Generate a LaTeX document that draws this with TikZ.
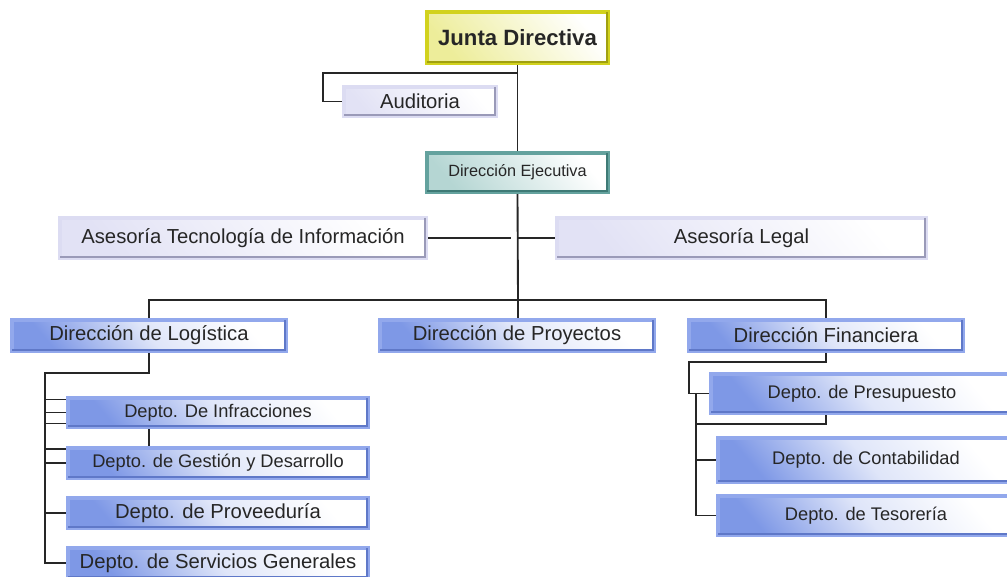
\documentclass[tikz,border=0pt]{standalone}
\usepackage{fontspec}
\setmainfont{Liberation Sans}
\usepackage{xcolor}
\definecolor{bfr}{HTML}{92A8EC}
\definecolor{bsh}{HTML}{7E98E6}
\definecolor{bdk}{HTML}{5F78C8}
\definecolor{lfr}{HTML}{DCDCF2}
\definecolor{lsh}{HTML}{E2E2F5}
\definecolor{ldk}{HTML}{9A9AB8}
\definecolor{yfr}{HTML}{D2D21E}
\definecolor{ysh}{HTML}{EDED9A}
\definecolor{ydk}{HTML}{A0A010}
\definecolor{tfr}{HTML}{64A29E}
\definecolor{tsh}{HTML}{B5D6D3}
\definecolor{tdk}{HTML}{3E7A76}
\usetikzlibrary{calc,backgrounds}
\tikzset{
orgbox/.style={rectangle, line width=3pt, inner sep=0pt, align=center, text=black!85},
bluebox/.style={orgbox, draw=bfr, top color=white, bottom color=bsh, middle color=bsh!25!white, shading angle=-50},
lilabox/.style={orgbox, draw=lfr, top color=white, bottom color=lsh, shading angle=-50},
yellowbox/.style={orgbox, draw=yfr, top color=white, bottom color=ysh, shading angle=-50},
tealbox/.style={orgbox, draw=tfr, top color=white, bottom color=tsh, shading angle=-50},
big/.style={font=\fontsize{15.2}{18}\selectfont},
small/.style={font=\fontsize{13.7}{16}\selectfont},
link/.style={draw=black!85, line width=1.4pt}
}
\begin{document}
\begin{tikzpicture}[x=0.75pt,y=-0.75pt]
\useasboundingbox (0,0) rectangle (1007,577);
\node[yellowbox, minimum width=135.75pt, minimum height=38.25pt, font=\bfseries\fontsize{16.6}{20}\selectfont] (junta) at (517.5,37.5) {Junta Directiva};
\node[lilabox, big, minimum width=114pt, minimum height=21.75pt] (aud) at (420,101.5) {Auditoria};
\node[tealbox, minimum width=135.75pt, minimum height=29.25pt, font=\fontsize{12.2}{15}\selectfont] (ejec) at (517.5,172.5) {Dirección Ejecutiva};
\node[lilabox, big, minimum width=274.5pt, minimum height=30pt] (ati) at (243,238) {Asesoría Tecnología de Información};
\node[lilabox, big, minimum width=276.75pt, minimum height=30pt] (alegal) at (741.5,238) {Asesoría Legal};
\foreach \n/\x/\t in {dlog/149/Dirección de Logística, dproy/517/Dirección de Proyectos, dfin/826/Dirección Financiera}{
\node[bluebox, big, minimum width=205.5pt, minimum height=23.25pt] (\n) at (\x,335.5) {\t};
}
\node[bluebox, small, minimum width=225pt, minimum height=21.75pt] (infr) at (218,412.5) {Depto. De Infracciones};
\node[bluebox, small, minimum width=225pt, minimum height=22.5pt] (gest) at (218,463) {Depto. de Gestión y Desarrollo};
\node[bluebox, big, minimum width=225pt, minimum height=22.5pt] (prov) at (218,513) {Depto. de Proveeduría};
\node[bluebox, big, minimum width=225pt, minimum height=22.5pt] (serv) at (218,563) {Depto. de Servicios Generales};
\node[bluebox, small, minimum width=226.5pt, minimum height=29.25pt] (pres) at (862,393.5) {Depto. de Presupuesto};
\node[bluebox, small, minimum width=222pt, minimum height=33pt] (cont) at (866,460) {Depto. de Contabilidad};
\node[bluebox, small, minimum width=222pt, minimum height=29.25pt] (tes) at (866,515.5) {Depto. de Tesorería};
\foreach \n/\c in {junta/ydk, aud/ldk, ejec/tdk, ati/ldk, alegal/ldk, dlog/bdk, dproy/bdk, dfin/bdk, infr/bdk, gest/bdk, prov/bdk, serv/bdk, pres/bdk, cont/bdk, tes/bdk}{
\draw[\c, line width=1.2pt] ([shift={(-2.1pt,-1.5pt)}]\n.north east) -- ([shift={(-2.1pt,2.1pt)}]\n.south east) -- ([shift={(1.5pt,2.1pt)}]\n.south west);
}
\coordinate (audj) at (518,73);
\coordinate (hub) at (518,300);
\coordinate (atiend) at (511,238);
\coordinate (legj) at (518,238);
\begin{scope}[on background layer]
\draw[link] (junta.south) -- (ejec.north);
\draw[link] (audj) -| ($(aud.west)+(-19,0)$) -- (aud.west);
\draw[link] (ejec.south) -- (hub);
\draw[link] (ati.east) -- (atiend);
\draw[link] (legj) -- (alegal.west);
\draw[link] (dlog.north) |- (hub) -| (dfin.north);
\draw[link] (hub) -- (hub |- dproy.north);
\draw[link] (dlog.south) -- ++(0,20) -| ($(serv.west)+(-21,0)$) -- (serv.west);
\draw[link] (infr.south -| dlog.south) -- (gest.north -| dlog.south);
\foreach \n/\d in {infr/-13, infr/0, infr/11, gest/-14, gest/0, prov/0}{
\draw[link] ($(\n.west)+(-21,\d)$) -- ($(\n.west)+(0,\d)$);
}
\draw[link] (dfin.south) -- ++(0,9) -| ($(pres.west)+(-20,0)$) -- (pres.west);
\draw[link] (pres.south -| dfin.south) -- ++(0,9) -| ($(pres.west)+(-13,0)$) |- (tes.west);
\draw[link] ($(cont.west)+(-20,0)$) -- (cont.west);
\end{scope}
\end{tikzpicture}
\end{document}
